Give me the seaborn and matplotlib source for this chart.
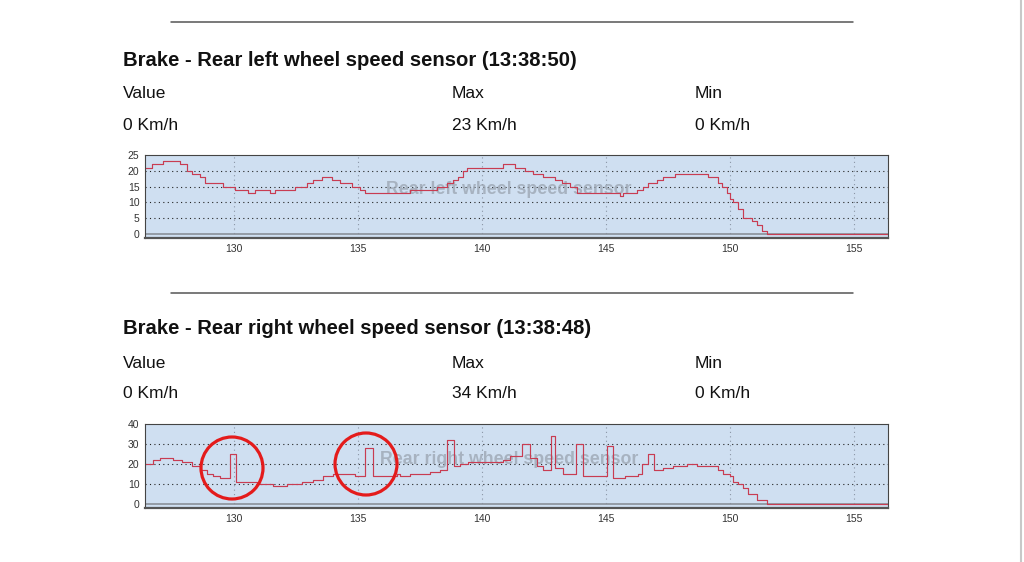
import matplotlib
matplotlib.use("Agg")
import matplotlib.pyplot as plt
from matplotlib.patches import Circle
from matplotlib.lines import Line2D
from matplotlib.transforms import IdentityTransform
import seaborn as sns
import pandas as pd

# ---------------- data (step breakpoints) ----------------
left_t = [126.41, 126.68, 127.15, 127.82, 128.09, 128.29, 128.63, 128.83, 129.57, 130.04,
          130.58, 130.85, 131.45, 131.65, 132.46, 132.93, 133.20, 133.53, 133.94, 134.27,
          134.75, 135.08, 135.28, 137.10, 138.17, 138.58, 138.84, 139.04, 139.25, 139.38,
          140.86, 141.33, 141.73, 142.07, 142.47, 142.94, 143.21, 143.55, 143.82, 145.56,
          145.70, 146.24, 146.50, 146.71, 147.04, 147.31, 147.78, 149.13, 149.53, 149.66,
          149.87, 150.00, 150.13, 150.33, 150.54, 150.87, 151.08, 151.28, 151.48, 156.37]
left_v = [21, 22, 23, 22, 20, 19, 18, 16, 15, 14,
          13, 14, 13, 14, 15, 16, 17, 18, 17, 16,
          15, 14, 13, 14, 15, 16, 17, 18, 20, 21,
          22, 21, 20, 19, 18, 17, 16, 15, 13, 12,
          13, 14, 15, 16, 17, 18, 19, 18, 16, 15,
          13, 11, 10, 8, 5, 4, 3, 1, 0, 0]

right_t = [126.41, 126.75, 127.02, 127.55, 127.89, 128.29, 128.63, 128.90, 129.17, 129.44,
           129.84, 130.06, 130.91, 131.59, 132.12, 132.73, 133.20, 133.60, 134.00, 134.88,
           135.30, 135.60, 136.56, 136.69, 137.10, 137.90, 138.31, 138.58, 138.88, 139.11,
           139.45, 140.86, 141.13, 141.60, 141.94, 142.20, 142.47, 142.78, 142.96, 143.28,
           143.78, 144.06, 145.03, 145.27, 145.77, 146.30, 146.44, 146.71, 146.95, 147.31,
           147.72, 148.25, 148.66, 149.53, 149.73, 150.00, 150.13, 150.34, 150.54, 150.74,
           151.08, 151.48, 156.37]
right_v = [20, 22, 23, 22, 21, 19, 17, 15, 14, 13,
           25, 11, 10, 9, 10, 11, 12, 14, 15, 14,
           28, 14, 15, 14, 15, 16, 17, 32, 19, 20,
           21, 22, 24, 30, 23, 19, 17, 34, 18, 15,
           30, 14, 29, 13, 14, 15, 20, 25, 17, 18,
           19, 20, 19, 17, 15, 14, 11, 10, 8, 5,
           2, 0, 0]

x_ticks = [130, 135, 140, 145, 150, 155]
left_yticks = [0, 5, 10, 15, 20, 25]
right_yticks = [0, 10, 20, 30, 40]

panels = [
    dict(title="Brake - Rear left wheel speed sensor (13:38:50)", value="0 Km/h",
         vmax="23 Km/h", vmin="0 Km/h", name="Rear left wheel speed sensor",
         t=left_t, v=left_v, yticks=left_yticks),
    dict(title="Brake - Rear right wheel speed sensor (13:38:48)", value="0 Km/h",
         vmax="34 Km/h", vmin="0 Km/h", name="Rear right wheel speed sensor",
         t=right_t, v=right_v, yticks=right_yticks),
]

# ---------------- figure ----------------
sns.set_theme(style="white")
plt.rcParams["font.family"] = ["Liberation Sans", "DejaVu Sans"]

W, H = 1024, 562
fig = plt.figure(figsize=(W / 100, H / 100), dpi=100)
fig.patch.set_facecolor("white")


def fy(px):
    return 1 - px / H


def fx(px):
    return px / W


layout = [
    dict(sep=22, title=60, lab=94, val=125, ax_top=155, ax_bot=238, ylo=-1.25),
    dict(sep=293, title=328, lab=363, val=394, ax_top=424, ax_bot=508, ylo=-2.0),
]

for p, L in zip(panels, layout):
    fig.add_artist(Line2D([fx(171), fx(853)], [fy(L["sep"]), fy(L["sep"])],
                          color="#555555", lw=1.1, transform=fig.transFigure))
    fig.text(fx(123), fy(L["title"]), p["title"], fontsize=14.6, fontweight="bold",
             color="#111111", va="center", ha="left")
    for xpx, lab, val in [(123, "Value", p["value"]), (452, "Max", p["vmax"]),
                          (695, "Min", p["vmin"])]:
        fig.text(fx(xpx), fy(L["lab"]), lab, fontsize=12.5, color="#111111",
                 va="center", ha="left")
        fig.text(fx(xpx), fy(L["val"]), val, fontsize=12.5, color="#111111",
                 va="center", ha="left")

    ax = fig.add_axes([fx(145), fy(L["ax_bot"]), fx(888) - fx(145),
                       (L["ax_bot"] - L["ax_top"]) / H])
    ax.set_facecolor("#cfdff1")
    df = pd.DataFrame({"t": p["t"], "v": p["v"]})
    sns.lineplot(data=df, x="t", y="v", ax=ax, estimator=None, sort=False,
                 drawstyle="steps-post", color="#c83c52", lw=0.85)
    ax.axhline(0, color="#8a9099", lw=1.2, zorder=1)
    ax.set_xlim(126.41, 156.37)
    ax.set_ylim(L["ylo"], p["yticks"][-1])
    ax.set_xticks(x_ticks)
    ax.set_yticks(p["yticks"])
    ax.set_xlabel("")
    ax.set_ylabel("")
    ax.tick_params(axis="both", labelsize=7.5, colors="#333333", length=2, pad=2)
    for yv in p["yticks"][1:-1]:
        ax.axhline(yv, color="#222222", lw=0.8, ls=(0, (1, 3)), zorder=0.5)
    for xv in x_ticks:
        ax.axvline(xv, color="#8a95a5", lw=0.8, ls=(0, (1, 3)), zorder=0.5)
    for s in ["top", "right", "left"]:
        ax.spines[s].set_color("#444444")
        ax.spines[s].set_linewidth(0.8)
    ax.spines["bottom"].set_color("#555555")
    ax.spines["bottom"].set_linewidth(1.6)
    ax.text(0.49, 0.58, p["name"], transform=ax.transAxes, ha="center", va="center",
            fontsize=12.8, fontweight="bold", color="#9aa4b0", alpha=0.75, zorder=0.8)

# red highlight circles (pixel coordinates)
for cx, cy in [(232, 468), (366, 464)]:
    fig.add_artist(Circle((cx, H - cy), 31, transform=IdentityTransform(),
                          fill=False, edgecolor="#e41b1b", lw=2.3))

# right page border
fig.add_artist(Line2D([fx(1021), fx(1021)], [0, 1], color="#c8c8c8", lw=1.5,
                      transform=fig.transFigure))

fig.savefig("out.png", dpi=100)
